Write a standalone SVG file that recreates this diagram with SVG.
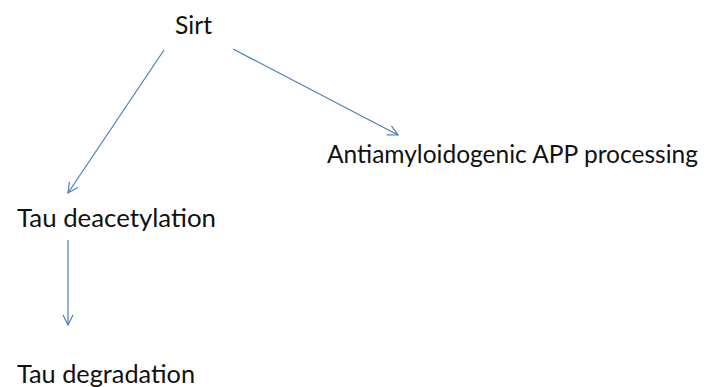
<svg xmlns="http://www.w3.org/2000/svg" width="718" height="387" viewBox="0 0 718 387">
<style>
.lbl{font-family:Lato,"Open Sans","Liberation Sans",sans-serif;font-size:25px;fill:#111}
.edge{stroke:#4a7ebb;stroke-width:1.2;fill:none}
</style>
<defs>
<marker id="arr" viewBox="0 0 12 12" refX="11" refY="6" markerWidth="12" markerHeight="12" markerUnits="userSpaceOnUse" orient="auto">
<path d="M1,1 L11,6 L1,11" fill="none" stroke="#4a7ebb" stroke-width="1.2"/>
</marker>
</defs>
<rect width="718" height="387" fill="#fff"/>
<g id="connectors">
<line class="edge" x1="164" y1="50" x2="68" y2="193" marker-end="url(#arr)"/>
<line class="edge" x1="233" y1="49" x2="398" y2="135" marker-end="url(#arr)"/>
<line class="edge" x1="68" y1="240" x2="68" y2="325" marker-end="url(#arr)"/>
</g>
<g id="sirt"><text class="lbl" x="175" y="34" textLength="37" lengthAdjust="spacingAndGlyphs">Sirt</text></g>
<g id="app"><text class="lbl" x="327" y="163" textLength="371" lengthAdjust="spacingAndGlyphs">Antiamyloidogenic APP processing</text></g>
<g id="tau-deacetylation"><text class="lbl" x="17" y="227" textLength="199" lengthAdjust="spacingAndGlyphs">Tau deacetylation</text></g>
<g id="tau-degradation"><text class="lbl" x="17" y="383" textLength="178" lengthAdjust="spacingAndGlyphs">Tau degradation</text></g>
</svg>
